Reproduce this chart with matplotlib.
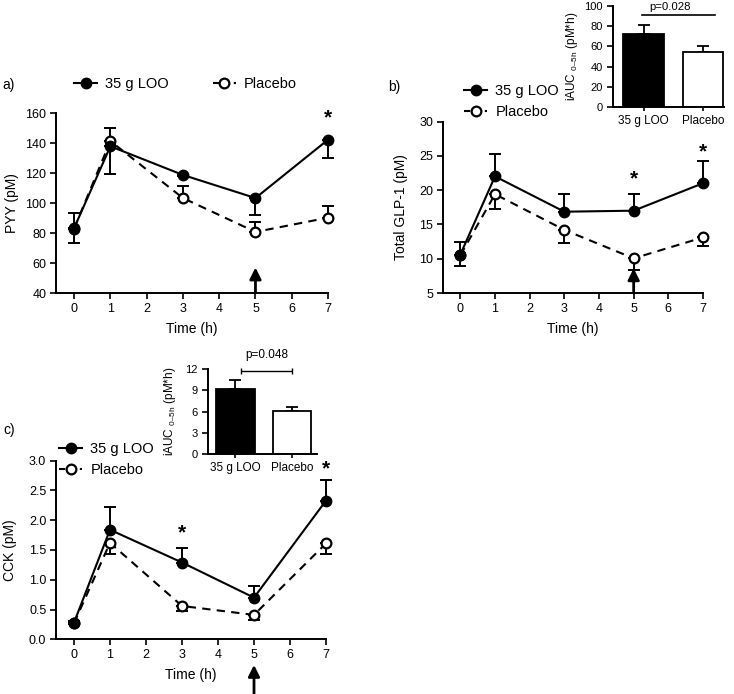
import matplotlib
matplotlib.use("Agg")
import matplotlib.pyplot as plt
from matplotlib.lines import Line2D

plt.rcParams['font.family'] = ['Liberation Sans', 'DejaVu Sans']
plt.rcParams['mathtext.fontset'] = 'custom'
plt.rcParams['mathtext.rm'] = 'Liberation Sans'
plt.rcParams['mathtext.default'] = 'regular'

# time points (h)
hours = [0, 1, 3, 5, 7]

# a) PYY (pM)
pyy_loo = [83.3, 137.8, 118.7, 103.3, 142.2]
pyy_loo_err = [10.0, 18.7, 1.0, 11.5, 12.4]      # drawn downwards
pyy_pla = [83.0, 141.3, 103.3, 80.7, 90.2]
pyy_pla_err = [10.6, 8.7, 8.0, 6.6, 8.0]         # drawn upwards

# b) total GLP-1 (pM)
glp_loo = [10.6, 22.0, 16.85, 17.0, 21.0]
glp_loo_err = [1.8, 3.2, 2.65, 2.5, 3.2]         # upwards
glp_pla = [10.5, 19.4, 14.2, 10.05, 13.1]
glp_pla_err = [1.6, 2.1, 1.9, 1.7, 1.25]         # downwards

# c) CCK (pM)
cck_loo = [0.28, 1.84, 1.29, 0.70, 2.33]
cck_loo_err = [0.02, 0.38, 0.25, 0.19, 0.34]     # upwards
cck_pla = [0.27, 1.62, 0.56, 0.41, 1.61]
cck_pla_err = [0.02, 0.18, 0.08, 0.09, 0.18]     # downwards

# inset bars: iAUC 0-5h
groups = ['35 g LOO', 'Placebo']
auc_glp = [72.0, 54.8]
auc_glp_err = [9.5, 5.9]
auc_cck = [9.2, 6.1]
auc_cck_err = [1.3, 0.6]

W, H = 734, 694
fig = plt.figure(figsize=(W / 100, H / 100), dpi=100)


def px_axes(left, top, right, bottom):
    return fig.add_axes([left / W, (H - bottom) / H, (right - left) / W, (bottom - top) / H])


def style(ax, fs=9):
    for s in ['top', 'right']:
        ax.spines[s].set_visible(False)
    for s in ['left', 'bottom']:
        ax.spines[s].set_linewidth(1.4)
    ax.tick_params(width=1.2, length=4, labelsize=fs, pad=3)


def time_panel(ax, loo, loo_lo, loo_hi, pla, pla_lo, pla_hi):
    ax.errorbar(hours, loo, yerr=[loo_lo, loo_hi], fmt='none', ecolor='black',
                elinewidth=1.4, capsize=4, capthick=1.4, zorder=1, clip_on=False)
    ax.errorbar(hours, pla, yerr=[pla_lo, pla_hi], fmt='none', ecolor='black',
                elinewidth=1.4, capsize=4, capthick=1.4, zorder=1, clip_on=False)
    ax.plot(hours, pla, color='black', lw=1.5, ls=(0, (4, 3)), marker='o', ms=7,
            mfc='white', mec='black', mew=1.6, zorder=3, clip_on=False)
    ax.plot(hours, loo, color='black', lw=1.5, marker='o', ms=7.5,
            mfc='black', mec='black', zorder=4, clip_on=False)
    ax.set_xlim(-0.5, 7)
    ax.set_xticks(range(8))
    ax.set_xlabel('Time (h)', fontsize=10, labelpad=5)
    style(ax)


def star(ax, x, y):
    ax.text(x, y, '*', ha='center', va='center', fontsize=15, fontweight='bold')


def arrow(ax, tip, tail):
    ax.annotate('', xy=(5, tip), xytext=(5, tail), annotation_clip=False,
                arrowprops=dict(arrowstyle='-|>', lw=2, color='black',
                                mutation_scale=17, shrinkA=0, shrinkB=0))


h_loo = Line2D([], [], color='black', lw=1.5, marker='o', ms=7.5, mfc='black')
h_pla = Line2D([], [], color='black', lw=1.5, ls=(0, (3, 2)), marker='o', ms=7,
               mfc='white', mew=1.6)


def legend(ax, x, y, ncol):
    ax.legend([h_loo, h_pla], groups, ncol=ncol, frameon=False,
              loc='upper left', bbox_to_anchor=(x / W, 1 - y / H),
              bbox_transform=fig.transFigure, fontsize=10.5, handlelength=1.6,
              handletextpad=0.55, columnspacing=3.0, borderpad=0, labelspacing=0.5,
              borderaxespad=0, numpoints=1)


# ---- a) PYY
ax_a = px_axes(56, 113, 328, 293)
time_panel(ax_a, pyy_loo, pyy_loo_err, [0] * 5, pyy_pla, [0] * 5, pyy_pla_err)
ax_a.set_ylim(40, 160)
ax_a.set_yticks(range(40, 161, 20))
ax_a.set_ylabel('PYY (pM)', fontsize=10)
ax_a.yaxis.set_label_coords(-0.135, 0.5)
star(ax_a, 7, 157)
arrow(ax_a, 57, 40)
legend(ax_a, 74, 77, 2)
fig.text(2 / W, 1 - 85 / H, 'a)', fontsize=10, va='center')

# ---- b) GLP-1
ax_b = px_axes(443, 121.5, 703, 293)
time_panel(ax_b, glp_loo, [0] * 5, glp_loo_err, glp_pla, glp_pla_err, [0] * 5)
ax_b.set_ylim(5, 30)
ax_b.set_yticks(range(5, 31, 5))
ax_b.set_ylabel('Total GLP-1 (pM)', fontsize=10)
ax_b.yaxis.set_label_coords(-0.135, 0.5)
star(ax_b, 5, 21.6)
star(ax_b, 7, 25.5)
arrow(ax_b, 8.6, 5)
legend(ax_b, 464, 84, 1)
fig.text(388 / W, 1 - 87 / H, 'b)', fontsize=10, va='center')

# ---- c) CCK
ax_c = px_axes(56, 460.7, 326, 639.3)
time_panel(ax_c, cck_loo, [0] * 5, cck_loo_err, cck_pla, cck_pla_err, [0] * 5)
ax_c.set_ylim(0, 3)
ax_c.set_yticks([0, 0.5, 1, 1.5, 2, 2.5, 3])
ax_c.set_yticklabels(['0.0', '0.5', '1.0', '1.5', '2.0', '2.5', '3.0'])
ax_c.set_ylabel('CCK (pM)', fontsize=10)
ax_c.yaxis.set_label_coords(-0.145, 0.5)
star(ax_c, 3, 1.78)
star(ax_c, 7, 2.86)
arrow(ax_c, -0.43, -0.93)
legend(ax_c, 59, 442, 1)
fig.text(3 / W, 1 - 430 / H, 'c)', fontsize=10, va='center')


# ---- insets
def inset(ax, vals, errs, top, step):
    ax.bar([0, 1], vals, width=0.68, color=['black', 'white'], edgecolor='black',
           linewidth=1.3, zorder=2)
    ax.errorbar([0, 1], vals, yerr=[[0, 0], errs], fmt='none', ecolor='black',
                elinewidth=1.3, capsize=4, capthick=1.3, zorder=1)
    ax.set_ylim(0, top)
    ax.set_yticks(range(0, top + 1, step))
    ax.set_xticks([0, 1])
    ax.set_xticklabels(groups)
    style(ax, fs=8)
    ax.tick_params(axis='x', labelsize=8.5, length=3)
    ax.set_ylabel('iAUC $_{0–5h}$ (pM*h)', fontsize=8.5)


ins_b = px_axes(612.7, 6, 724, 107)
inset(ins_b, auc_glp, auc_glp_err, 100, 20)
ins_b.set_xlim(-0.52, 1.35)
ins_b.yaxis.set_label_coords(-0.29, 0.5)
ins_b.plot([-0.03, 1.2], [91.5, 91.5], color='black', lw=1.2, clip_on=False)
ins_b.text(0.45, 94, 'p=0.028', ha='center', va='bottom', fontsize=8.2, clip_on=False)

ins_c = px_axes(207.7, 369, 316.7, 454)
inset(ins_c, auc_cck, auc_cck_err, 12, 3)
ins_c.set_xlim(-0.49, 1.44)
ins_c.yaxis.set_label_coords(-0.27, 0.5)
ins_c.errorbar([0.55], [11.67], xerr=[[0.45]], fmt='none', ecolor='black',
               elinewidth=1.0, capsize=2.5, capthick=1.0, clip_on=False)
ins_c.text(0.56, 14.0, 'p=0.048', ha='center', va='center', fontsize=8.5, clip_on=False)

fig.savefig('out.png', dpi=100)
